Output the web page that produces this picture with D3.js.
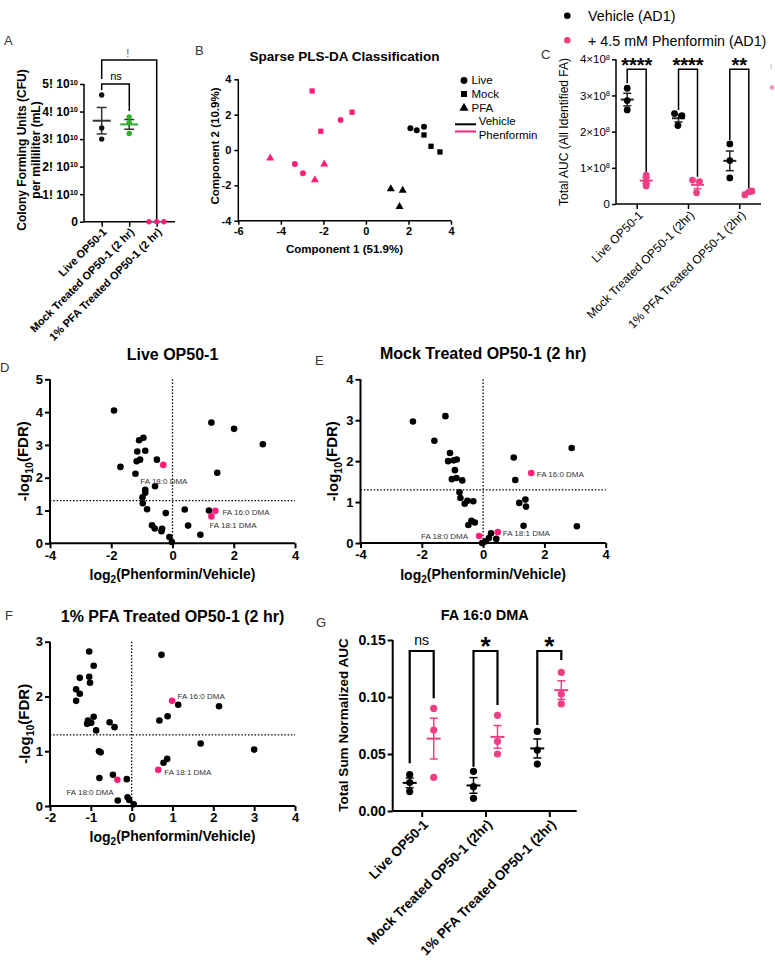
<!DOCTYPE html>
<html><head><meta charset="utf-8">
<script src="https://cdn.jsdelivr.net/npm/d3@7"></script>
<style>body{margin:0;background:#fff} svg{display:block}</style>
</head><body><svg id="c" width="775" height="960"></svg>
<script>
// ---------------- DATA ----------------
// Panel A: CFU per mL
const cfuCategories = ["Live OP50-1", "Mock Treated OP50-1 (2 hr)", "1% PFA Treated OP50-1 (2 hr)"];
const cfuValues = [[4.6e10, 3.4e10, 3.0e10], [3.8e10, 3.6e10, 3.2e10], [0, 0, 0]];
const cfuTicks = [0, 1e10, 2e10, 3e10, 4e10, 5e10];

// Panel B: sparse PLS-DA scores
const plsComp1 = [-2.53, -0.65, -2.12, -1.19, -4.5, -3.34, -2.96, -1.96, -2.4, 2.09, 2.39, 2.73, 2.73, 3.06, 3.48, 1.17, 1.73, 1.58];
const plsComp2 = [3.34, 2.14, 1.06, 1.70, -0.46, -0.79, -1.31, -0.80, -1.69, 1.23, 1.12, 1.31, 0.85, 0.21, -0.11, -2.2, -2.29, -3.21];
const plsShape = ["Mock", "Mock", "Mock", "Live", "PFA", "Live", "Live", "PFA", "PFA", "Live", "Live", "Live", "Mock", "Mock", "Mock", "PFA", "PFA", "PFA"];
const plsTreatment = ["Phenformin", "Phenformin", "Phenformin", "Phenformin", "Phenformin", "Phenformin", "Phenformin", "Phenformin", "Phenformin", "Vehicle", "Vehicle", "Vehicle", "Vehicle", "Vehicle", "Vehicle", "Vehicle", "Vehicle", "Vehicle"];
const plsXTicks = [-6, -4, -2, 0, 2, 4];
const plsYTicks = [-4, -2, 0, 2, 4];

// Panel C: total AUC
const aucCategories = ["Live OP50-1", "Mock Treated OP50-1 (2hr)", "1% PFA Treated OP50-1 (2hr)"];
const aucVehicle = [[3.2e8, 2.86e8, 2.6e8], [2.5e8, 2.44e8, 2.17e8], [1.66e8, 0.72e8, 1.2e8]];
const aucPhenformin = [[0.8e8, 0.64e8, 0.5e8], [0.66e8, 0.62e8, 0.31e8], [0.25e8, 0.34e8, 0.36e8]];
const aucSignif = ["****", "****", "**"];
const aucTicks = [0, 1e8, 2e8, 3e8, 4e8];

// Panels D-F: volcano plots
const liveX = [-1.91,-1.70,-1.21,-1.15,-1.09,-0.95,-0.89,-1.17,-1.06,-0.51,-0.57,-0.89,-0.89,-0.98,-0.97,-0.83,-0.22,-0.67,-0.58,-0.34,-0.36,-0.10,-0.02,0.40,0.51,0.91,1.19,1.27,2.01,2.95,1.46];
const liveY = [4.05,2.33,2.12,2.80,3.14,3.22,2.82,2.50,2.55,2.55,1.74,1.63,1.54,1.40,1.22,1.04,0.92,0.55,0.45,0.44,0.37,0.19,0.04,1.03,0.54,0.26,1.00,3.68,3.49,3.02,2.15];
const mockX = [-2.29,-1.23,-1.59,-1.08,-1.14,-0.96,-0.86,-0.92,-1.02,-0.87,-0.68,-0.77,-0.74,-0.60,-0.51,-0.32,-0.48,-0.38,-0.27,-0.03,0.08,0.19,0.26,0.43,1.00,1.05,1.18,1.38,1.40,1.32,2.89,3.06];
const mockY = [2.97,3.10,2.50,2.20,2.00,2.02,2.04,1.78,1.56,1.59,1.53,1.24,1.10,0.96,1.03,1.02,0.44,0.54,0.50,0.00,0.04,0.12,0.24,0.10,2.09,1.54,0.98,1.06,0.89,0.42,2.32,0.41];
const pfaX = [-1.04,-0.93,-1.27,-1.04,-1.02,-1.36,-1.27,-1.36,-0.93,-1.07,-1.09,-0.99,-0.87,-0.54,-0.42,-0.80,-0.76,-0.79,-0.46,-0.12,-0.34,-0.10,-0.06,0.05,0.73,1.14,0.88,0.68,2.14,1.69,3.00,0.78,0.87];
const pfaY = [2.82,2.56,2.34,2.36,2.25,2.13,2.05,1.92,1.63,1.56,1.50,1.52,1.38,1.53,1.44,1.00,0.98,0.51,0.57,0.49,0.10,0.16,0.11,0.03,2.76,1.85,1.64,1.56,1.82,1.14,1.03,0.79,0.86];
const highlightNames = ["FA 18:0 DMA", "FA 16:0 DMA", "FA 18:1 DMA"];
const liveHiX = [-0.30, 1.40, 1.27], liveHiY = [2.39, 0.99, 0.82];
const mockHiX = [-0.13, 1.57, 0.48], mockHiY = [0.17, 1.71, 0.27];
const pfaHiX = [-0.35, 0.99, 0.65], pfaHiY = [0.48, 1.92, 0.66];
const fdrThreshold = 1.3;

// Panel G: FA 16:0 DMA
const dmaVehicle = [[0.032, 0.025, 0.017], [0.0348, 0.0213, 0.0111], [0.0699, 0.0535, 0.0412]];
const dmaPhenformin = [[0.090, 0.071, 0.0295], [0.0839, 0.0611, 0.050], [0.1216, 0.1026, 0.0939]];
const dmaSignif = ["ns", "*", "*"];
const dmaTicks = [0, 0.05, 0.10, 0.15];

// ---------------- DRAWING ----------------
const FONT = "'Liberation Sans', Arial, Helvetica, sans-serif";
const PINK = "#ff1f78", PINK2 = "#ef3f84", GREEN = "#2bb02b", TEAL = "#2aa5a0";
const svg = d3.select("#c");

function txt(x, y, s, o = {}) {
  return svg.append("text").attr("x", x).attr("y", y).text(s)
    .attr("font-family", FONT).attr("font-size", o.size || 12)
    .attr("font-weight", o.weight || "normal").attr("fill", o.fill || "#000")
    .attr("text-anchor", o.anchor || "start");
}
function line(x1, y1, x2, y2, o = {}) {
  return svg.append("line").attr("x1", x1).attr("y1", y1).attr("x2", x2).attr("y2", y2)
    .attr("stroke", o.stroke || "#000").attr("stroke-width", o.sw || 2)
    .attr("stroke-dasharray", o.dash || null);
}
function styleAxis(sel, size, weight, sw) {
  sel.select(".domain").remove();
  sel.selectAll(".tick line").attr("stroke", "#000").attr("stroke-width", sw);
  sel.selectAll(".tick text").attr("font-family", FONT).attr("font-size", size)
    .attr("font-weight", weight).attr("fill", "#000");
}
function rotLabel(x, y, s, size, weight) {
  svg.append("text").attr("transform", `translate(${x},${y}) rotate(-45)`)
    .attr("text-anchor", "end").attr("dy", "0.35em").text(s)
    .attr("font-family", FONT).attr("font-size", size).attr("font-weight", weight);
}
// x = visual centre of the rotated text line
function vLabel(x, y, parts, size, weight) {
  const t = svg.append("text").attr("transform", `translate(${x + 0.36 * size},${y}) rotate(-90)`)
    .attr("text-anchor", "middle").attr("font-family", FONT)
    .attr("font-size", size).attr("font-weight", weight);
  parts.forEach(p => {
    const ts = t.append("tspan").text(p.t);
    if (p.sub) ts.attr("font-size", size * 0.7).attr("dy", "0.3em");
    if (p.after) ts.attr("dy", "-0.3em");
  });
  return t;
}
function mean(a) { return d3.mean(a); }
function sem(a) { return d3.deviation(a) / Math.sqrt(a.length); }
function errbar(cx, vals, y, o) {
  const m = mean(vals), s = sem(vals);
  line(cx, y(m + s), cx, y(m - s), { stroke: o.whisker, sw: 1.5 });
  line(cx - o.cap / 2, y(m + s), cx + o.cap / 2, y(m + s), { stroke: o.whisker, sw: 1.5 });
  line(cx - o.cap / 2, y(m - s), cx + o.cap / 2, y(m - s), { stroke: o.whisker, sw: 1.5 });
  line(cx - o.w / 2, y(m), cx + o.w / 2, y(m), { stroke: o.meanColor, sw: 2 });
}
function bracket(x1, x2, yTop, yL, yR, sw) {
  svg.append("path").attr("d", `M${x1},${yL}V${yTop}H${x2}V${yR}`)
    .attr("fill", "none").attr("stroke", "#000").attr("stroke-width", sw);
}

// Panel letters
[["A", 4, 45], ["B", 195, 55], ["C", 541, 59], ["D", 0, 372], ["E", 315, 365], ["F", 5, 620], ["G", 316, 627]]
  .forEach(([s, x, y]) => txt(x, y, s, { size: 13, fill: "#333" }));

// ===== Panel A =====
(function () {
  const y = d3.scaleLinear().domain([0, 5e10]).range([221.7, 84]);
  const x = d3.scalePoint().domain(cfuCategories).range([101.7, 156.7]);
  const ya = svg.append("g").attr("transform", "translate(84,0)")
    .call(d3.axisLeft(y).tickValues(cfuTicks).tickSize(4).tickPadding(2).tickSizeOuter(0));
  styleAxis(ya, 12, "bold", 1.5);
  ya.selectAll(".tick text").each(function (d) {
    const t = d3.select(this); t.text(null);
    if (d === 0) { t.text("0"); return; }
    t.append("tspan").text(`${d / 1e10}! 10`);
    t.append("tspan").text("10").attr("font-size", 7.5).attr("dy", "-0.5em");
  });
  line(84, 84, 84, 221.7, { sw: 1.5 });
  const xa = svg.append("g").attr("transform", "translate(0,221.7)")
    .call(d3.axisBottom(x).tickSize(5).tickFormat("").tickSizeOuter(0));
  styleAxis(xa, 11, "bold", 1.5);
  line(84, 221.7, 175, 221.7, { sw: 1.5 });
  cfuCategories.forEach(c => rotLabel(x(c) + 3, 230, c, 11, "bold"));
  vLabel(21.7, 150, [{ t: "Colony Forming Units (CFU)" }], 12, "bold");
  vLabel(36, 150, [{ t: "per milliliter (mL)" }], 12, "bold");
  const jitter = [[0, 0, 0], [0, 0, 0], [-7.7, 0, 7.3]];
  const dotColor = ["#111", GREEN, PINK];
  const meanColor = ["#333", GREEN, TEAL];
  bracket(101.7, 156.7, 60, 79, 221.7, 1.5);
  bracket(101.7, 129.3, 84, 90, 111, 1.5);
  txt(127.7, 57, "!", { size: 11, anchor: "middle", fill: "#555" });
  txt(116, 80, "ns", { size: 11, anchor: "middle" });
  cfuValues.forEach((vals, i) => {
    const cx = x(cfuCategories[i]);
    if (i < 2) errbar(cx, vals, y, { whisker: "#333", meanColor: meanColor[i], cap: 10, w: 18 });
    else line(cx - 5, y(0), cx + 5, y(0), { stroke: meanColor[i], sw: 2 });
    svg.append("g").selectAll("circle").data(vals).join("circle")
      .attr("cx", (d, k) => cx + jitter[i][k]).attr("cy", d => y(d)).attr("r", 2.7).attr("fill", dotColor[i]);
  });
})();

// ===== Panel B =====
(function () {
  const x = d3.scaleLinear().domain([-6, 4]).range([238.3, 451]);
  const y = d3.scaleLinear().domain([-4, 4]).range([220.7, 79.3]);
  const xa = svg.append("g").attr("transform", "translate(0,220.7)")
    .call(d3.axisBottom(x).tickValues(plsXTicks).tickSize(4).tickFormat(d => String(d)).tickSizeOuter(0));
  styleAxis(xa, 11, "bold", 1.5);
  const ya = svg.append("g").attr("transform", "translate(238.3,0)")
    .call(d3.axisLeft(y).tickValues(plsYTicks).tickSize(4).tickFormat(d => String(d)).tickSizeOuter(0));
  styleAxis(ya, 11, "bold", 1.5);
  line(238.3, 220.7, 451, 220.7, { sw: 1.5 });
  line(238.3, 79.3, 238.3, 220.7, { sw: 1.5 });
  txt(344.5, 61, "Sparse PLS-DA Classification", { size: 13.5, weight: "bold", anchor: "middle" });
  txt(344.5, 253, "Component 1 (51.9%)", { size: 11.5, weight: "bold", anchor: "middle" });
  vLabel(215, 146, [{ t: "Component 2 (10.9%)" }], 11.5, "bold");
  const shapes = { Live: d3.symbolCircle, Mock: d3.symbolSquare, PFA: d3.symbolTriangle };
  const color = { Vehicle: "#000", Phenformin: PINK };
  svg.append("g").selectAll("path").data(plsComp1).join("path")
    .attr("transform", (d, i) => `translate(${x(d)},${y(plsComp2[i])})`)
    .attr("d", (d, i) => d3.symbol().type(shapes[plsShape[i]]).size(28)())
    .attr("fill", (d, i) => color[plsTreatment[i]]);
  const lg = [["Live", 80.5, 84.3], ["Mock", 94, 98], ["PFA", 108, 111.8]];
  lg.forEach(([k, cy, ty]) => {
    svg.append("path").attr("transform", `translate(464,${cy})`)
      .attr("d", d3.symbol().type(shapes[k]).size(36)()).attr("fill", "#000");
    txt(471.5, ty, k, { size: 11.5 });
  });
  line(455, 124.3, 476, 124.3, { sw: 2 });
  txt(478.7, 125, "Vehicle", { size: 11.5 });
  line(455, 131.5, 476, 131.5, { sw: 2, stroke: PINK });
  txt(478.7, 138.5, "Phenformin", { size: 11.5 });
})();

// ===== Panel C =====
(function () {
  const y = d3.scaleLinear().domain([0, 4e8]).range([204, 59.3]);
  const x = d3.scalePoint().domain(aucCategories).range([636.7, 739.3]);
  const ya = svg.append("g").attr("transform", "translate(616,0)")
    .call(d3.axisLeft(y).tickValues(aucTicks).tickSize(4).tickPadding(2).tickSizeOuter(0));
  styleAxis(ya, 11.5, "normal", 1.5);
  ya.selectAll(".tick text").each(function (d) {
    const t = d3.select(this); t.text(null);
    if (d === 0) { t.text("0"); return; }
    t.append("tspan").text(`${d / 1e8}×10`);
    t.append("tspan").text("8").attr("font-size", 7.5).attr("dy", "-0.5em");
  });
  line(616, 59.3, 616, 204, { sw: 1.5 });
  const xa = svg.append("g").attr("transform", "translate(0,204)")
    .call(d3.axisBottom(x).tickSize(5).tickFormat("").tickSizeOuter(0));
  styleAxis(xa, 11, "normal", 1.5);
  line(616, 204, 761, 204, { sw: 1.5 });
  aucCategories.forEach(c => rotLabel(x(c) + 4, 213, c, 12, "normal"));
  vLabel(564, 132, [{ t: "Total AUC (All Identified FA)" }], 12, "normal");
  svg.append("circle").attr("cx", 567.3).attr("cy", 15.7).attr("r", 3.3).attr("fill", "#000");
  txt(588, 21, "Vehicle (AD1)", { size: 14.3 });
  svg.append("circle").attr("cx", 567.3).attr("cy", 40.3).attr("r", 3.3).attr("fill", PINK2);
  txt(588, 46, "+ 4.5 mM Phenformin (AD1)", { size: 14.3 });
  const off = 9.5;
  const jitV = [[0, 0, 0], [-4, 3.4, -0.6], [0, 0, 0]];
  const jitP = [[0, 0, 0], [-5, 2, -1], [-4, 0.5, 3]];
  const bracketBottoms = [[83.3, 173], [110, 176.7], [140, 188.3]];
  aucCategories.forEach((c, i) => {
    const cv = x(c) - off, cp = x(c) + off;
    bracket(cv, cp, 69.3, bracketBottoms[i][0], bracketBottoms[i][1], 1.5);
    txt(x(c), 71.5, aucSignif[i], { size: 20, weight: "bold", anchor: "middle" });
    errbar(cv, aucVehicle[i], y, { whisker: "#222", meanColor: "#222", cap: 8, w: 13 });
    errbar(cp, aucPhenformin[i], y, { whisker: PINK2, meanColor: PINK2, cap: 8, w: 13 });
    svg.append("g").selectAll("circle").data(aucVehicle[i]).join("circle")
      .attr("cx", (d, k) => cv + jitV[i][k]).attr("cy", d => y(d)).attr("r", 3.4).attr("fill", "#000");
    svg.append("g").selectAll("circle").data(aucPhenformin[i]).join("circle")
      .attr("cx", (d, k) => cp + jitP[i][k]).attr("cy", d => y(d)).attr("r", 3.4).attr("fill", PINK2);
  });
  svg.append("circle").attr("cx", 772).attr("cy", 87.5).attr("r", 2.2).attr("fill", PINK2).attr("opacity", 0.6);
  line(771, 64, 771, 69, { stroke: "#bbb", sw: 1 });
})();

// ===== Volcano panels =====
function volcano(cfg) {
  const x = d3.scaleLinear().domain(cfg.xDomain).range(cfg.xRange);
  const y = d3.scaleLinear().domain(cfg.yDomain).range(cfg.yRange);
  const xa = svg.append("g").attr("transform", `translate(0,${cfg.yRange[0]})`)
    .call(d3.axisBottom(x).tickValues(cfg.xTicks).tickSize(5).tickPadding(2).tickFormat(d => String(d)).tickSizeOuter(0));
  styleAxis(xa, 13, "bold", 2);
  const ya = svg.append("g").attr("transform", `translate(${cfg.xRange[0]},0)`)
    .call(d3.axisLeft(y).tickValues(cfg.yTicks).tickSize(5).tickPadding(2).tickFormat(d => String(d)).tickSizeOuter(0));
  styleAxis(ya, 13, "bold", 2);
  line(cfg.xRange[0], cfg.yRange[0], cfg.xRange[1], cfg.yRange[0], { sw: 2 });
  line(cfg.xRange[0], cfg.yRange[0], cfg.xRange[0], cfg.yRange[1], { sw: 2 });
  line(x(0), cfg.yRange[1], x(0), cfg.yRange[0], { sw: 1.3, dash: "1.5,1.8" });
  line(cfg.xRange[0], y(fdrThreshold), cfg.xRange[1], y(fdrThreshold), { sw: 1.3, dash: "1.5,1.8" });
  const cx = (cfg.xRange[0] + cfg.xRange[1]) / 2;
  txt(cx, cfg.titleY, cfg.title, { size: 16, weight: "bold", anchor: "middle" });
  const xl = txt(cx, cfg.xLabelY, "", { size: 14, weight: "bold", anchor: "middle" });
  xl.append("tspan").text("log");
  xl.append("tspan").text("2").attr("font-size", 10).attr("dy", "0.3em");
  xl.append("tspan").text("(Phenformin/Vehicle)").attr("dy", "-0.3em");
  vLabel(cfg.yLabelX, (cfg.yRange[0] + cfg.yRange[1]) / 2,
    [{ t: "-log" }, { t: "10", sub: true }, { t: "(FDR)", after: true }], 15, "bold");
  svg.append("g").selectAll("circle").data(cfg.xs).join("circle")
    .attr("cx", d => x(d)).attr("cy", (d, i) => y(cfg.ys[i])).attr("r", 3.3).attr("fill", "#000");
  svg.append("g").selectAll("circle").data(cfg.hx).join("circle")
    .attr("cx", d => x(d)).attr("cy", (d, i) => y(cfg.hy[i])).attr("r", 3.3).attr("fill", PINK);
  highlightNames.forEach((n, i) => {
    const L = cfg.labels[i];
    txt(x(cfg.hx[i]) + L[0], y(cfg.hy[i]) + L[1], n, { size: 8, fill: "#333", anchor: L[2] });
  });
}
volcano({ xDomain: [-4, 4], xRange: [50, 295], yDomain: [0, 5], yRange: [543.3, 379.3],
  xTicks: [-4, -2, 0, 2, 4], yTicks: [0, 1, 2, 3, 4, 5], title: "Live OP50-1", titleY: 360,
  xLabelY: 580, yLabelX: 24, xs: liveX, ys: liveY, hx: liveHiX, hy: liveHiY,
  labels: [[-23, 19, "start"], [7, 4, "start"], [-2, 12, "start"]] });
volcano({ xDomain: [-4, 4], xRange: [360.5, 605.7], yDomain: [0, 4], yRange: [543, 379.3],
  xTicks: [-4, -2, 0, 2, 4], yTicks: [0, 1, 2, 3, 4], title: "Mock Treated OP50-1 (2 hr)", titleY: 359,
  xLabelY: 580, yLabelX: 333, xs: mockX, ys: mockY, hx: mockHiX, hy: mockHiY,
  labels: [[-11, 3, "end"], [5.5, 4, "start"], [5, 4.5, "start"]] });
volcano({ xDomain: [-2, 4], xRange: [50, 295], yDomain: [0, 3], yRange: [806, 641.7],
  xTicks: [-2, -1, 0, 1, 2, 3, 4], yTicks: [0, 1, 2, 3], title: "1% PFA Treated OP50-1 (2 hr)", titleY: 622,
  xLabelY: 842, yLabelX: 25, xs: pfaX, ys: pfaY, hx: pfaHiX, hy: pfaHiY,
  labels: [[-51, 15, "start"], [5.5, -2, "start"], [6, 5, "start"]] });

// ===== Panel G =====
(function () {
  const y = d3.scaleLinear().domain([0, 0.15]).range([811, 640]);
  const x = d3.scalePoint().domain(aucCategories).range([421.7, 549.3]);
  const ya = svg.append("g").attr("transform", "translate(392.7,0)")
    .call(d3.axisLeft(y).tickValues(dmaTicks).tickSize(5).tickPadding(2).tickFormat(d3.format(".2f")).tickSizeOuter(0));
  styleAxis(ya, 14, "bold", 2);
  line(392.7, 640, 392.7, 811, { sw: 2 });
  const xa = svg.append("g").attr("transform", "translate(0,811)")
    .call(d3.axisBottom(x).tickSize(6).tickFormat("").tickSizeOuter(0));
  styleAxis(xa, 13, "bold", 2);
  line(392.7, 811, 576.7, 811, { sw: 2 });
  aucCategories.forEach(c => rotLabel(x(c) + 4, 822, c, 13.5, "bold"));
  txt(484.7, 620, "FA 16:0 DMA", { size: 14.5, weight: "bold", anchor: "middle" });
  vLabel(343, 725, [{ t: "Total Sum Normalized AUC" }], 13.5, "bold");
  const off = 12;
  const bottoms = [[763.3, 698.3], [766.7, 705], [725, 660]];
  aucCategories.forEach((c, i) => {
    const cv = x(c) - off, cp = x(c) + off;
    bracket(cv, cp, 651, bottoms[i][0], bottoms[i][1], 2.2);
    if (dmaSignif[i] === "ns") txt(x(c), 645, "ns", { size: 14, anchor: "middle" });
    else txt(x(c), 655, dmaSignif[i], { size: 26, weight: "bold", anchor: "middle" });
    errbar(cv, dmaVehicle[i], y, { whisker: "#000", meanColor: "#000", cap: 8, w: 14 });
    errbar(cp, dmaPhenformin[i], y, { whisker: PINK2, meanColor: PINK2, cap: 8, w: 14 });
    svg.append("g").selectAll("circle").data(dmaVehicle[i]).join("circle")
      .attr("cx", cv).attr("cy", d => y(d)).attr("r", 3.6).attr("fill", "#000");
    svg.append("g").selectAll("circle").data(dmaPhenformin[i]).join("circle")
      .attr("cx", cp).attr("cy", d => y(d)).attr("r", 3.6).attr("fill", PINK2);
  });
})();
</script></body></html>
